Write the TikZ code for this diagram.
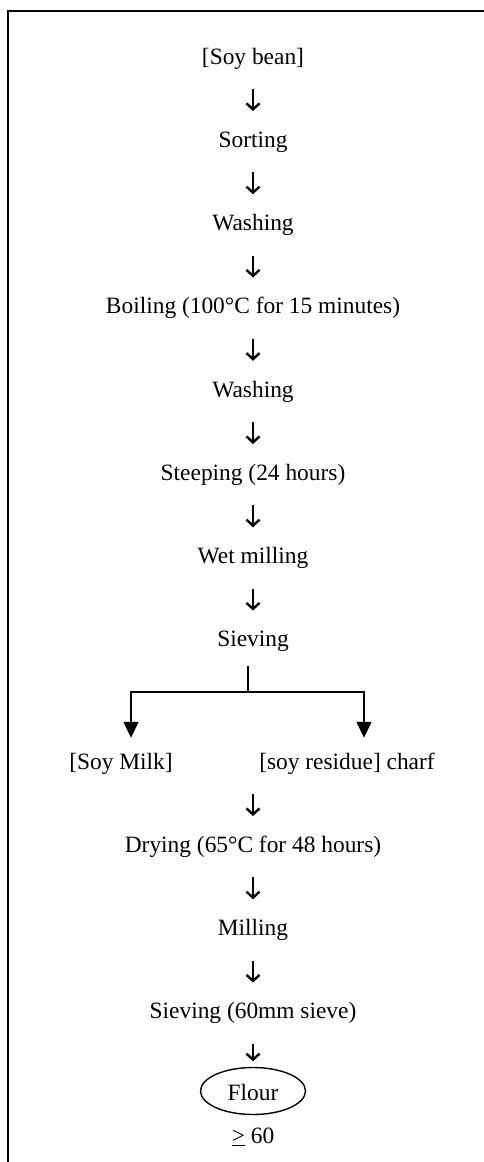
\documentclass[tikz,border=0pt]{standalone}
\usepackage{fontspec}
\setmainfont{Liberation Serif}
\usetikzlibrary{positioning,arrows.meta,shapes.geometric}
\definecolor{fcInk}{RGB}{0,0,0}
\tikzset{
    base/.style={font=\fontsize{23.4}{28}\selectfont, align=center, text=fcInk},
    stage/.style={base, inner sep=0pt, text height=16pt, text depth=5pt},
    product/.style={base, ellipse, draw=fcInk, line width=1.4pt, minimum width=105pt,
                    minimum height=47pt, inner sep=0pt, text height=18pt, text depth=0pt},
    flow/.style={-{Straight Barb[length=6pt,width=13pt,line width=2.4pt]}, line width=1.8pt,
                 color=fcInk, shorten <=20pt, shorten >=20pt},
    split/.style={-{Triangle[length=16pt,width=15pt]}, line width=1.5pt, color=fcInk},
    frame/.style={line width=1.8pt, color=fcInk}
}
\begin{document}
\begin{tikzpicture}[x=1pt,y=-1pt]
  \useasboundingbox (0,0) rectangle (484,1162);
  % page frame, cut off at right and bottom
  \draw[frame] (8,1180) |- (500,11);

  % main column
  \node[stage] (soy) at (253,58.5) {[Soy bean]};
  \node[stage] (sort) at (253,141.75) {Sorting};
  \node[stage] (wash1) at (253,225) {Washing};
  \node[stage] (boil) at (253,308.25) {Boiling (100°C for 15 minutes)};
  \node[stage] (wash2) at (253,391.5) {Washing};
  \node[stage] (steep) at (253,474.75) {Steeping (24 hours)};
  \node[stage] (wet) at (253,558) {Wet milling};
  \node[stage] (sieve) at (253,641.25) {Sieving};

  \draw[flow] (soy) -- (sort);
  \draw[flow] (sort) -- (wash1);
  \draw[flow] (wash1) -- (boil);
  \draw[flow] (boil) -- (wash2);
  \draw[flow] (wash2) -- (steep);
  \draw[flow] (steep) -- (wet);
  \draw[flow] (wet) -- (sieve);

  % split into milk and residue
  \node[stage] (milk) at (121,763.5) {[Soy Milk]};
  \node[stage] (residue) at (347,763.5) {[soy residue] charf};
  \coordinate (fork) at (248,692);
  \draw[split, -] ([xshift=-5pt]sieve.south) ++(0,14) -- (fork);
  \draw[split] (fork) -| ([xshift=10pt,yshift=15pt]milk.north);
  \draw[split] (fork) -| ([xshift=17pt,yshift=15pt]residue.north);

  % residue to flour
  \node[stage] (dry) at (253,846.75) {Drying (65°C for 48 hours)};
  \node[stage] (mill) at (253,930) {Milling};
  \node[stage] (sieve60) at (253,1013.25) {Sieving (60mm sieve)};
  \node[product] (flour) at (253,1091) {Flour};
  \node[stage, below=12pt of flour] (limit) {\underline{>} 60};

  \draw[flow] (residue.south -| dry) -- (dry);
  \draw[flow] (dry) -- (mill);
  \draw[flow] (mill) -- (sieve60);
  \draw[flow, shorten >=5.5pt] (sieve60) -- (flour);
\end{tikzpicture}
\end{document}
